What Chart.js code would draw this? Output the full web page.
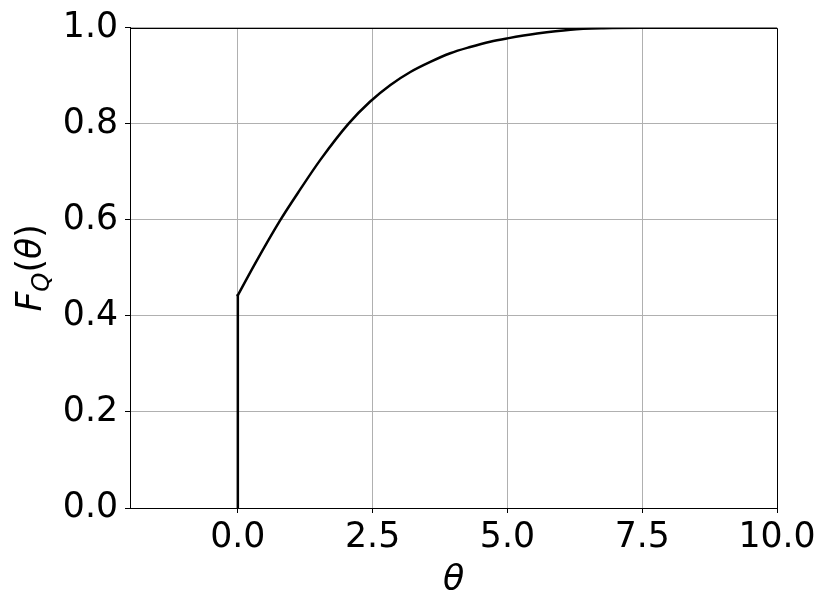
<!DOCTYPE html>
<html>
<head>
<meta charset="utf-8">
<script src="https://cdn.jsdelivr.net/npm/chart.js@4.4.0/dist/chart.umd.min.js"></script>
<style>
  html, body { margin: 0; padding: 0; background: #fff; }
  #wrap { width: 830px; height: 611px; position: relative; }
</style>
</head>
<body>
<div id="wrap"><canvas id="cdf"></canvas></div>
<script>
// jump at theta = 0 (point mass)
const thetaJump = [0, 0];
const fJump = [0, 0.443];

// continuous part of the CDF
const thetaCurve = [0, 0.32, 0.79, 1.16, 1.53, 2.05, 2.45, 2.83, 3.2, 3.57, 3.94, 4.31, 4.68, 5.0, 5.55, 6.17, 6.78, 7.5, 10];
const fCurve = [0.443, 0.509, 0.600, 0.664, 0.725, 0.800, 0.846, 0.881, 0.908, 0.929, 0.947, 0.960, 0.971, 0.978, 0.988, 0.996, 0.999, 1.0, 1.0];

const xTicks = [0, 2.5, 5, 7.5, 10];
const yTicks = [0, 0.2, 0.4, 0.6, 0.8, 1.0];

const FONT = 'DejaVu Sans';
const FS = 34.7;

function toPoints(xs, ys) {
    return xs.map((x, i) => ({ x: x, y: ys[i] }));
}

// top/right spines (matplotlib box)
const framePlugin = {
    id: 'frame',
    afterDraw(chart) {
        const { ctx, chartArea: a } = chart;
        ctx.save();
        ctx.strokeStyle = '#000';
        ctx.lineWidth = 1;
        ctx.beginPath();
        ctx.moveTo(Math.round(a.left) + 0.5, Math.round(a.top) + 0.5);
        ctx.lineTo(Math.round(a.right) + 0.5, Math.round(a.top) + 0.5);
        ctx.lineTo(Math.round(a.right) + 0.5, Math.round(a.bottom) + 0.5);
        ctx.stroke();
        ctx.restore();
    }
};

// y label F_Q(theta) with a subscript
const yLabelPlugin = {
    id: 'ylabel',
    afterDraw(chart) {
        const { ctx, chartArea: a } = chart;
        const parts = [
            { t: 'F', f: 'italic ' + FS + 'px "' + FONT + '"', dy: 0 },
            { t: 'Q', f: 'italic ' + (FS * 0.7) + 'px "' + FONT + '"', dy: FS * 0.22 },
            { t: '(', f: FS + 'px "' + FONT + '"', dy: 0 },
            { t: 'θ', f: 'italic ' + FS + 'px "' + FONT + '"', dy: 0 },
            { t: ')', f: FS + 'px "' + FONT + '"', dy: 0 }
        ];
        ctx.save();
        let total = 0;
        parts.forEach(p => { ctx.font = p.f; p.w = ctx.measureText(p.t).width; total += p.w; });
        ctx.translate(41, (a.top + a.bottom) / 2);
        ctx.rotate(-Math.PI / 2);
        ctx.fillStyle = '#000';
        ctx.textBaseline = 'alphabetic';
        let x = -total / 2;
        parts.forEach(p => {
            ctx.font = p.f;
            ctx.fillText(p.t, x, p.dy);
            x += p.w;
        });
        ctx.restore();
    }
};

const ctx = document.getElementById('cdf').getContext('2d');
const chart = new Chart(ctx, {
    type: 'line',
    data: {
        datasets: [{
            data: toPoints(thetaJump, fJump),
            borderColor: '#000',
            borderWidth: 2.5,
            borderCapStyle: 'square',
            pointRadius: 0,
            tension: 0
        }, {
            data: toPoints(thetaCurve, fCurve),
            borderColor: '#000',
            borderWidth: 2.5,
            borderCapStyle: 'square',
            pointRadius: 0,
            cubicInterpolationMode: 'monotone'
        }]
    },
    options: {
        responsive: true,
        maintainAspectRatio: false,
        animation: false,
        layout: { padding: { top: 26, right: 53, left: 0, bottom: 0 } },
        plugins: {
            legend: { display: false },
            tooltip: { enabled: false }
        },
        scales: {
            x: {
                type: 'linear',
                min: -2,
                max: 10,
                afterBuildTicks: scale => { scale.ticks = xTicks.map(v => ({ value: v })); },
                afterFit: scale => { scale.height = 103; },
                ticks: {
                    color: '#000',
                    padding: 4,
                    maxRotation: 0,
                    font: { family: FONT, size: FS },
                    callback: v => v.toFixed(1)
                },
                grid: { color: '#b0b0b0', lineWidth: 1, tickColor: '#000', tickLength: 5, tickWidth: 1 },
                border: { color: '#000', width: 1 },
                title: {
                    display: true,
                    text: 'θ',
                    color: '#000',
                    padding: { top: 0, bottom: 9 },
                    font: { family: FONT, size: FS, style: 'italic' }
                }
            },
            y: {
                min: 0,
                max: 1,
                afterBuildTicks: scale => { scale.ticks = yTicks.map(v => ({ value: v })); },
                afterFit: scale => { scale.width = 130; },
                ticks: {
                    color: '#000',
                    padding: 7,
                    font: { family: FONT, size: FS },
                    callback: v => v.toFixed(1)
                },
                grid: { color: '#b0b0b0', lineWidth: 1, tickColor: '#000', tickLength: 5, tickWidth: 1 },
                border: { color: '#000', width: 1 }
            }
        }
    },
    plugins: [framePlugin, yLabelPlugin]
});
</script>
</body>
</html>
